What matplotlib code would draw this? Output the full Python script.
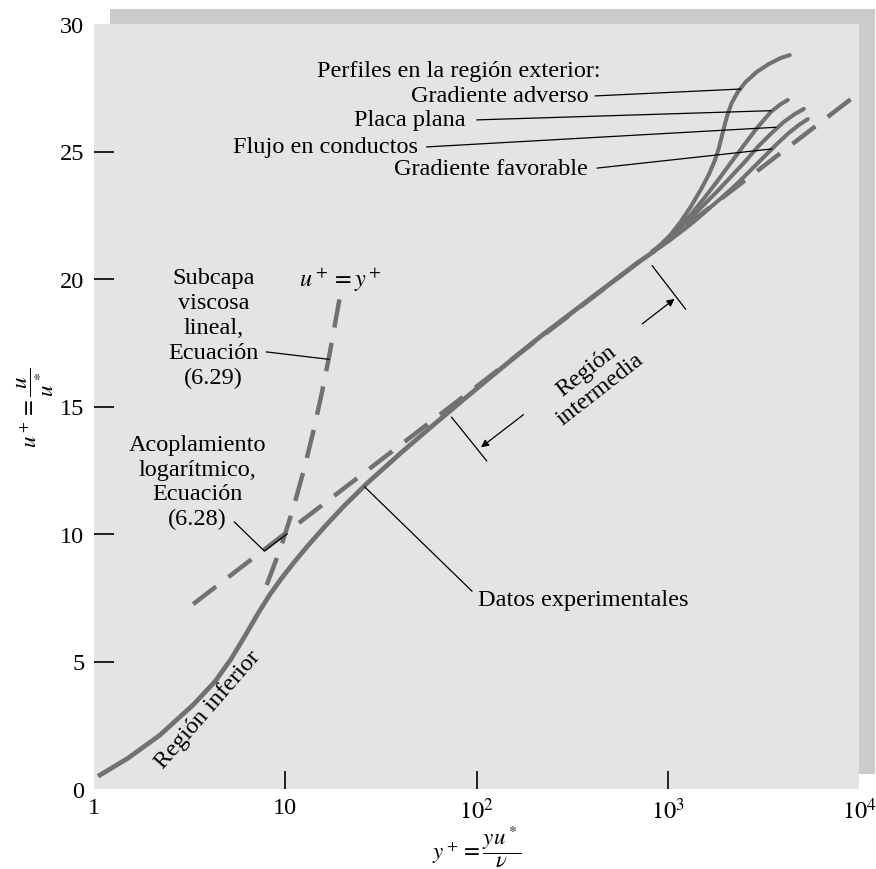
import matplotlib
matplotlib.use("Agg")
import matplotlib.pyplot as plt
from matplotlib.patches import Rectangle
from matplotlib.ticker import NullLocator

plt.rcParams['font.family'] = ['Liberation Serif', 'DejaVu Serif']
plt.rcParams['mathtext.fontset'] = 'stix'

# Perfil de velocidad medido (datos experimentales)
y_plus_exp = [1.05, 1.5, 2.2, 3.3, 4.3, 5.2, 6.2, 7.2, 8.3, 9.6, 11.2, 13.2, 16.0,
              20.0, 26.6, 33.0, 39.7, 50.0, 59.4, 75.0, 90.0, 115.0, 140.0, 180.0,
              220.0, 309.0, 420.0, 565.0, 700.0, 845.0]
u_plus_exp = [0.5, 1.2, 2.1, 3.3, 4.22, 5.09, 6.04, 6.88, 7.62, 8.28, 8.92, 9.56,
              10.27, 11.05, 11.97, 12.6, 13.14, 13.79, 14.27, 14.91, 15.41, 16.07,
              16.6, 17.27, 17.79, 18.63, 19.39, 20.12, 20.65, 21.08]

# Perfiles en la región exterior
y_plus_adv = [845, 1034, 1167, 1316, 1485, 1636, 1759, 1845, 1913, 1984, 2058,
              2159, 2322, 2557, 2920, 3375, 3901, 4347]
u_plus_adv = [21.08, 21.73, 22.24, 22.82, 23.49, 24.08, 24.63, 25.10, 25.57,
              26.04, 26.47, 26.90, 27.33, 27.73, 28.12, 28.43, 28.67, 28.78]

y_plus_plate = [845, 973, 1125, 1316, 1539, 1801, 2133, 2527, 2955, 3457, 3901, 4245]
u_plus_plate = [21.08, 21.49, 21.96, 22.51, 23.14, 23.80, 24.55, 25.29, 25.96,
                26.55, 26.86, 27.02]

y_plus_pipe = [845, 973, 1125, 1316, 1539, 1801, 2133, 2527, 2955, 3457, 4045,
               4618, 5148]
u_plus_pipe = [21.08, 21.49, 21.92, 22.39, 22.90, 23.41, 24.0, 24.59, 25.18,
               25.69, 26.16, 26.47, 26.67]

y_plus_fav = [845, 997, 1167, 1381, 1636, 1936, 2322, 2716, 3177, 3716, 4296,
              4848, 5403]
u_plus_fav = [21.08, 21.45, 21.84, 22.27, 22.75, 23.22, 23.76, 24.27, 24.78,
              25.29, 25.73, 26.04, 26.27]

# Subcapa viscosa lineal, u+ = y+
y_plus_visc = [8.0, 9.5, 11.0, 12.5, 14.0, 15.5, 17.0, 19.2]
u_plus_visc = [8.0, 9.5, 11.0, 12.5, 14.0, 15.5, 17.0, 19.2]

# Acoplamiento logarítmico
y_plus_log = [3.3, 10000.0]
u_plus_log = [7.25, 27.3]

x_ticks = [1, 10, 100, 1000, 10000]
x_tick_labels = ['1', '10', r'$10^2$', r'$10^3$', r'$10^4$']
y_ticks = [0, 5, 10, 15, 20, 25, 30]
y_tick_labels = ['0', '5', '10', '15', '20', '25', '30']

CURVE = '#717171'
FS = 17.5

fig = plt.figure(figsize=(8.76, 8.70), dpi=100)
fig.patch.set_facecolor('white')
ax = fig.add_axes([94 / 876, 1 - 790 / 870, 765 / 876, 765 / 870])
ax.set_facecolor('#e4e4e4')

# sombra del recuadro
fig.add_artist(Rectangle((0.021, 0.02), 1.0, 1.0, transform=ax.transAxes,
                         facecolor='#cbcbcb', edgecolor='none', zorder=-1))

ax.set_xscale('log')
ax.set_xlim(1, 1e4)
ax.set_ylim(0, 30)
for s in ax.spines.values():
    s.set_visible(False)

ax.xaxis.set_minor_locator(NullLocator())
ax.set_xticks(x_ticks)
ax.set_xticklabels(x_tick_labels)
ax.set_yticks(y_ticks)
ax.set_yticklabels(y_tick_labels)
ax.tick_params(axis='both', direction='in', labelsize=FS, color='black')
ax.tick_params(axis='x', length=13, width=1.2, pad=6)
ax.tick_params(axis='y', length=14.5, width=1.2, pad=7)
for ticks in (ax.xaxis.get_major_ticks(), ax.yaxis.get_major_ticks()):
    ticks[0].tick1line.set_visible(False)
    ticks[-1].tick1line.set_visible(False)

ax.set_xlabel(r'$y^+ = \dfrac{y u^*}{\nu}$', fontsize=FS - 1, labelpad=0)
ax.set_ylabel(r'$u^+ = \dfrac{u}{u^*}$', fontsize=FS - 1, labelpad=3)

# curvas
ax.plot(y_plus_exp, u_plus_exp, color=CURVE, lw=3.4, solid_capstyle='butt',
        solid_joinstyle='round', zorder=3)
for xs, ys in ((y_plus_adv, u_plus_adv), (y_plus_plate, u_plus_plate),
               (y_plus_pipe, u_plus_pipe), (y_plus_fav, u_plus_fav)):
    ax.plot(xs, ys, color=CURVE, lw=2.9, solid_capstyle='round',
            solid_joinstyle='round', zorder=3)

ax.plot(y_plus_log, u_plus_log, color=CURVE, lw=3.2, linestyle=(0, (6.5, 3.5)),
        dash_capstyle='butt', zorder=2)
ax.plot(y_plus_visc, u_plus_visc, color=CURVE, lw=3.2, linestyle=(0, (6.5, 3.5)),
        dash_capstyle='butt', zorder=2)

# textos y líneas guía
lk = dict(color='black', lw=0.9, zorder=4)
tk = dict(fontsize=FS, color='black')

ax.text(444, 28.16, 'Perfiles en la región exterior:', ha='right', va='center', **tk)
ax.text(384, 27.18, 'Gradiente adverso', ha='right', va='center', **tk)
ax.plot([418, 2405], [27.18, 27.45], **lk)
ax.text(88, 26.24, 'Placa plana', ha='right', va='center', **tk)
ax.plot([100.6, 3459], [26.24, 26.6], **lk)
ax.text(49.4, 25.18, 'Flujo en conductos', ha='right', va='center', **tk)
ax.plot([55.0, 3672], [25.18, 25.95], **lk)
ax.text(384, 24.35, 'Gradiente favorable', ha='right', va='center', **tk)
ax.plot([428, 3499], [24.35, 25.1], **lk)

ax.text(19.5, 20.0, r'$u^+ = y^+$', ha='center', va='center', **tk)
ax.text(4.21, 18.1, 'Subcapa\nviscosa\nlineal,\nEcuación\n(6.29)', ha='center',
        va='center', multialignment='center', linespacing=1.24, **tk)
ax.plot([7.97, 16.9], [17.14, 16.85], **lk)

ax.text(3.47, 12.05, 'Acoplamiento\nlogarítmico,\nEcuación\n(6.28)', ha='center',
        va='center', multialignment='center', linespacing=1.22, **tk)
ax.plot([5.42, 7.78, 10.2], [10.47, 9.33, 10.0], **lk)

ax.text(101.9, 7.45, 'Datos experimentales', ha='left', va='center', **tk)
ax.plot([26.0, 94.7], [11.85, 7.76], **lk)

ax.text(3.95, 3.12, 'Región inferior', rotation=49, rotation_mode='anchor',
        ha='center', va='center', **tk)

ax.text(408, 16.08, 'Región\nintermedia', rotation=38, rotation_mode='anchor',
        ha='center', va='center', multialignment='center', linespacing=1.15, **tk)
ax.plot([74.1, 113], [14.58, 12.87], **lk)
ax.plot([829, 1239], [20.52, 18.82], **lk)
ax.annotate('', xy=(105.6, 13.4), xytext=(176, 14.68),
            arrowprops=dict(arrowstyle='-|>', lw=0.9, color='black',
                            mutation_scale=11, shrinkA=0, shrinkB=0))
ax.annotate('', xy=(1085, 19.22), xytext=(735, 18.24),
            arrowprops=dict(arrowstyle='-|>', lw=0.9, color='black',
                            mutation_scale=11, shrinkA=0, shrinkB=0))

fig.savefig('out.png', dpi=100)
